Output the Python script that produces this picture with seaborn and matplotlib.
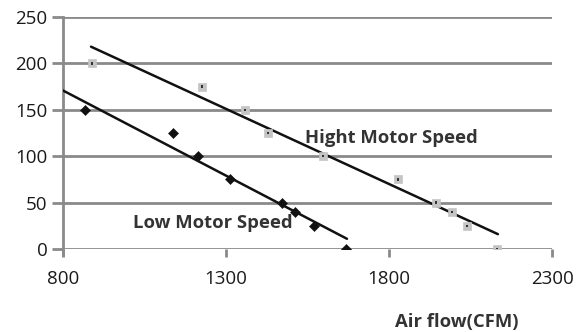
import matplotlib
matplotlib.use('Agg')
import matplotlib.pyplot as plt
import seaborn as sns
import pandas as pd

# datos
low_x = [867, 1137, 1214, 1312, 1472, 1512, 1570, 1668]
low_y = [150, 125, 100, 75, 50, 40, 25, 0]
high_x = [889, 1226, 1358, 1429, 1598, 1828, 1944, 1993, 2039, 2131]
high_y = [200, 175, 150, 125, 100, 75, 50, 40, 25, 0]

# líneas de tendencia (extremos)
low_trend_x = [788, 1671]
low_trend_y = [173, 11]
high_trend_x = [886, 2134]
high_trend_y = [218, 16]

x_ticks = [800, 1300, 1800, 2300]
y_ticks = [0, 50, 100, 150, 200, 250]

sns.set_style('white')
plt.rcParams['font.family'] = ['Open Sans', 'DejaVu Sans']

fig = plt.figure(figsize=(5.79, 3.32), dpi=100)
ax = fig.add_axes([0.1088, 0.25, 0.8446, 0.6988])

grid_c = '#8a8a8a'
for y in y_ticks:
    ax.axhline(y, color=grid_c, lw=2, zorder=0)

df_low = pd.DataFrame({'x': low_x, 'y': low_y})
df_high = pd.DataFrame({'x': high_x, 'y': high_y})

sns.lineplot(x=low_trend_x, y=low_trend_y, ax=ax, color='#111111', lw=1.8, zorder=3)
sns.lineplot(x=high_trend_x, y=high_trend_y, ax=ax, color='#111111', lw=1.8, zorder=3)

sns.scatterplot(data=df_low, x='x', y='y', ax=ax, marker='D', s=26,
                color='#111111', edgecolor='#111111', zorder=4)
sns.scatterplot(data=df_high, x='x', y='y', ax=ax, marker='s', s=36,
                color='#c4c4c4', edgecolor='#c4c4c4', zorder=4)
sns.scatterplot(data=df_high, x='x', y='y', ax=ax, marker='s', s=3,
                color='#333333', edgecolor='none', zorder=5)

ax.set_xlim(800, 2300)
ax.set_ylim(0, 250)
ax.set_xticks(x_ticks)
ax.set_yticks(y_ticks)

for s in ['top', 'right', 'bottom']:
    ax.spines[s].set_visible(False)
ax.spines['left'].set_color(grid_c)
ax.spines['left'].set_linewidth(2)
ax.spines['left'].set_bounds(-6, 250)
ax.tick_params(axis='y', length=8, width=2, color=grid_c, labelsize=13.5,
               labelcolor='#1a1a1a', pad=3)
ax.tick_params(axis='x', length=6, width=2, color=grid_c, labelsize=13.5,
               labelcolor='#1a1a1a', pad=9, direction='out')
ax.tick_params(axis='both', left=True, bottom=True)

ax.set_xlabel('')
ax.set_ylabel('')

ax.text(1542, 120, 'Hight Motor Speed', fontsize=13.3, fontweight='bold',
        color='#333333', ha='left', va='center')
ax.text(1015, 28, 'Low Motor Speed', fontsize=13.3, fontweight='bold',
        color='#333333', ha='left', va='center')
fig.text(0.788, 0.03, 'Air flow(CFM)', fontsize=13.3, fontweight='bold',
         color='#333333', ha='center', va='center')

fig.savefig('out.png', dpi=100)
